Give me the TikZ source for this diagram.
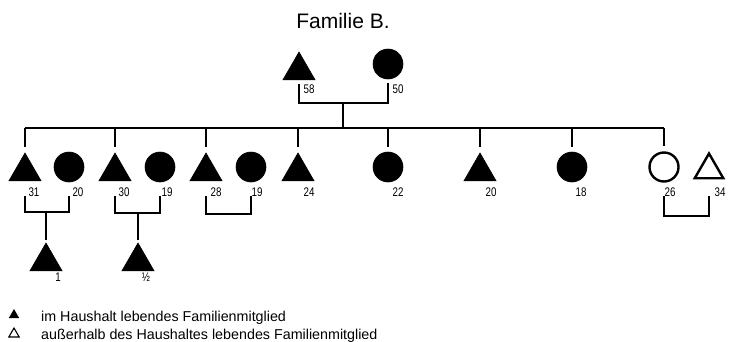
\documentclass[tikz,border=0pt]{standalone}
\usepackage{fontspec}
\setmainfont{Liberation Sans}
\newfontfamily\agefont[FakeStretch=0.78]{Liberation Sans}
\usetikzlibrary{shapes.geometric,calc}

\begin{document}
\begin{tikzpicture}[x=1pt,y=-1pt,
  male/.style={regular polygon, regular polygon sides=3, minimum size=37pt,
    inner sep=0pt, fill=black, draw=black, line width=0.6pt},
  female/.style={circle, minimum size=30pt, inner sep=0pt, fill=black,
    draw=black, line width=0.6pt},
  maleout/.style={regular polygon, regular polygon sides=3, minimum size=33pt,
    inner sep=0pt, draw=black, line width=2.4pt},
  femaleout/.style={circle, minimum size=29pt, inner sep=0pt, draw=black,
    line width=2.4pt},
  age/.style={font=\agefont\fontsize{12.5}{12.5}\selectfont, inner sep=0pt,
    anchor=base},
  link/.style={line width=1.1pt, draw=black},
  legendtext/.style={font=\fontsize{14.3}{14.3}\selectfont, inner sep=0pt,
    anchor=base west},
]
\useasboundingbox (0,0) rectangle (733,341);

% title
\node[font=\fontsize{21}{21}\selectfont, inner sep=0pt] (title) at (343,21) {Familie B.};

% parents
\node[male]   (f) at (299,70.5) {};
\node[female] (m) at (388,64) {};
\node[age] (af) at (309,93) {58};
\node[age] (am) at (398,93) {50};

% children
\node[male]      (t31) at (25,171.5) {};
\node[female]    (c20) at (69,167) {};
\node[male]      (t30) at (115,171.5) {};
\node[female]    (c19a) at (160,167) {};
\node[male]      (t28) at (206,171.5) {};
\node[female]    (c19b) at (251,167) {};
\node[male]      (t24) at (298,171.5) {};
\node[female]    (c22) at (388,167) {};
\node[male]      (t20) at (480,171.5) {};
\node[female]    (c18) at (572,167) {};
\node[femaleout] (o26) at (664,167) {};
\node[maleout]   (o34) at (709,170) {};

\node[age] at (34,196)  {31};
\node[age] at (78,196)  {20};
\node[age] at (124,196) {30};
\node[age] at (167,196) {19};
\node[age] at (216,196) {28};
\node[age] at (257,196) {19};
\node[age] at (309,196) {24};
\node[age] at (398,196) {22};
\node[age] at (491,196) {20};
\node[age] at (581,196) {18};
\node[age] at (670,196) {26};
\node[age] at (720,196) {34};

% grandchildren
\node[male] (g1) at (46,261.5) {};
\node[male] (g2) at (138,261.5) {};
\node[age] at (58,281)  {1};
\node[age] at (146,281) {½};

% parent line
\coordinate (pm) at (343,103);
\coordinate (sib) at (343,128);
\draw[link] ($(f.south)+(0,4)$) |- (pm) -| ($(m.south)+(0,4)$);
\draw[link] (pm) -- (sib);

% sibling line and drops
\draw[link] (sib -| t31.north) -- (sib -| o26.north);
\foreach \n in {t31,t30,t28,t24,c22,t20,c18,o26}
  \draw[link] (sib -| \n.north) -- ($(\n.north)+(0,-5)$);

% couples
\coordinate (ctop) at (0,196);
\coordinate (k1) at (46,212);
\coordinate (k2) at (138,213);
\coordinate (k3) at (228,214);
\coordinate (k4) at (687,216);
\draw[link] (t31 |- ctop) |- (k1) -| (c20 |- ctop);
\draw[link] (t30 |- ctop) |- (k2) -| (c19a |- ctop);
\draw[link] (t28 |- ctop) |- (k3) -| (c19b |- ctop);
\draw[link] (o26 |- ctop) |- (k4) -| (o34 |- ctop);
\draw[link] (k1) -- ($(g1.north)+(0,-2)$);
\draw[link] (k2) -- ($(g2.north)+(0,-2)$);

% legend
\node[regular polygon, regular polygon sides=3, minimum size=12pt,
  inner sep=0pt, fill=black] (l1) at (14,315) {};
\node[regular polygon, regular polygon sides=3, minimum size=12pt,
  inner sep=0pt, draw=black, line width=1.1pt] (l2) at (14,334) {};
\node[legendtext] (lt1) at (41,321) {im Haushalt lebendes Familienmitglied};
\node[legendtext] (lt2) at (41,339) {außerhalb des Haushaltes lebendes Familienmitglied};
\end{tikzpicture}
\end{document}
